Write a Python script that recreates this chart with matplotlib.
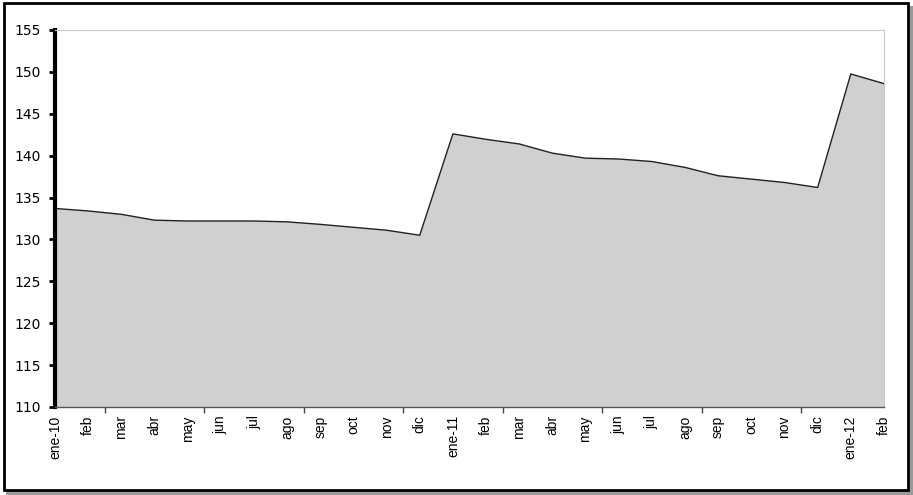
import numpy as np
import matplotlib
matplotlib.use("Agg")
import matplotlib.pyplot as plt
from matplotlib.patches import Rectangle

plt.rcParams['font.family'] = ['Liberation Sans', 'DejaVu Sans']

# monthly values, ene-10 .. feb-12
months = ['ene-10', 'feb', 'mar', 'abr', 'may', 'jun', 'jul', 'ago', 'sep', 'oct', 'nov', 'dic',
          'ene-11', 'feb', 'mar', 'abr', 'may', 'jun', 'jul', 'ago', 'sep', 'oct', 'nov', 'dic',
          'ene-12', 'feb']
values = [133.7, 133.4, 133.0, 132.3, 132.2, 132.2, 132.2, 132.1, 131.8, 131.45, 131.1, 130.5,
          142.6, 141.95, 141.4, 140.3, 139.7, 139.6, 139.3, 138.6, 137.6, 137.2, 136.8, 136.2,
          149.75, 148.6]
yticks = [110, 115, 120, 125, 130, 135, 140, 145, 150, 155]

fig = plt.figure(figsize=(9.13, 4.95), dpi=100)
ax = fig.add_axes([0.0602, 0.1778, 0.9080, 0.7616])

x = np.arange(len(values))
ax.fill_between(x, values, 110, facecolor='#d0d0d0', edgecolor='none')
ax.plot(x, values, color='#222222', linewidth=1.0)

ax.set_xlim(0, len(values) - 1)
ax.set_ylim(110, 155)
ax.set_yticks(yticks)
ax.set_yticklabels([str(t) for t in yticks], fontsize=10, family='DejaVu Sans')

# labels on every month, tick marks on a coarser grid
ax.set_xticks(x)
ax.set_xticklabels(months, rotation=90, fontsize=10)
ax.tick_params(axis='x', which='major', length=0, pad=6)
ax.set_xticks(np.arange(0, len(values) - 1, 1.5), minor=True)
ax.tick_params(axis='x', which='minor', length=4, width=1, color='#444444', direction='out')
ax.tick_params(axis='y', length=4, width=2, direction='out', pad=6)

ax.spines['left'].set_linewidth(3)
ax.spines['left'].set_color('black')
ax.spines['bottom'].set_color('#555555')
ax.spines['bottom'].set_linewidth(1)
ax.spines['top'].set_color('#c8c8c8')
ax.spines['right'].set_color('#c8c8c8')

# outer frame with shadow
fig.patches.append(Rectangle((0.007, 0.0), 0.993, 0.988, transform=fig.transFigure,
                             facecolor='#9a9a9a', edgecolor='none', zorder=-2))
fig.patches.append(Rectangle((0.004, 0.01), 0.99, 0.983, transform=fig.transFigure,
                             facecolor='white', edgecolor='black', linewidth=2, zorder=-1))

fig.savefig('out.png', dpi=100)
